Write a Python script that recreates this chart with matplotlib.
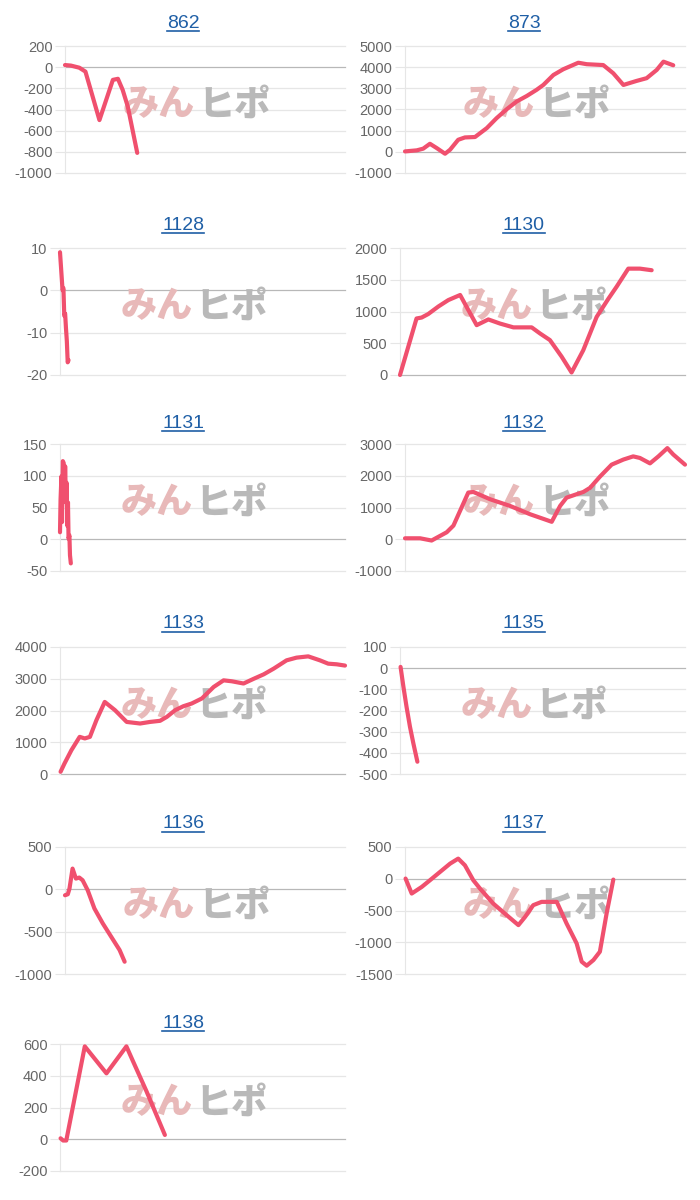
import matplotlib
matplotlib.use("Agg")
import matplotlib.pyplot as plt
from matplotlib.lines import Line2D

plt.rcParams['font.family'] = ['Liberation Sans', 'DejaVu Sans']
plt.rcParams['axes.unicode_minus'] = False

# --- data (x = position along the common period, 0-100) ---
x_862 = [0, 2.1, 5.1, 7.3, 12.3, 17.1, 18.9, 20.6, 22.4, 25.8]
y_862 = [20, 15, -5, -42, -500, -120, -110, -215, -370, -810]

x_873 = [0, 4.2, 6.5, 8.9, 11.3, 14.3, 16.1, 19.0, 21.4, 25.0, 29.2, 32.7, 36.3,
         39.9, 43.5, 47.0, 49.4, 53.0, 56.5, 61.9, 64.9, 70.8, 74.4, 78.0, 82.7,
         86.3, 89.9, 92.3, 95.8]
y_873 = [20, 70, 150, 380, 180, -90, 100, 570, 680, 700, 1120, 1590, 2010, 2380,
         2640, 2930, 3160, 3630, 3900, 4210, 4140, 4100, 3710, 3160, 3350, 3480,
         3870, 4260, 4090]

x_1128 = [0, 0.3, 0.6, 0.9, 1.2, 1.5, 1.8, 2.1, 2.4, 2.7, 3.0]
y_1128 = [9, 6, 3, 0, 0.5, -6, -5.5, -9, -12, -17, -16.5]

x_1130 = [0, 5.8, 7.6, 9.9, 13.5, 16.96, 21.1, 23.4, 26.9, 31.0, 35.1, 39.8,
          46.2, 49.1, 52.6, 56.7, 60.2, 64.3, 69.0, 73.1, 76.0, 80.1, 84.2, 88.3]
y_1130 = [0, 890, 905, 960, 1080, 1180, 1260, 1070, 785, 875, 810, 750, 750,
          655, 550, 290, 40, 390, 915, 1200, 1390, 1675, 1675, 1650]

x_1131 = [0, 0.2, 0.5, 0.7, 1.0, 1.3, 1.6, 1.8, 2.1, 2.3, 2.6, 2.8, 3.0, 3.3,
          3.5, 3.8]
y_1131 = [11, 63, 99, 27, 123, 120, 68, 115, 58, 89, 21, 58, 1, 6, -25, -38]

x_1132 = [0, 5.4, 9.5, 14.9, 17.3, 22.6, 24.4, 30.4, 37.5, 44.6, 52.4, 55.4,
          57.7, 63.7, 66.1, 69.6, 73.8, 78.0, 81.5, 83.9, 87.5, 90.5, 93.7, 95.8,
          100]
y_1132 = [30, 30, -40, 220, 430, 1470, 1490, 1260, 1050, 790, 550, 1050, 1310,
          1490, 1620, 1970, 2350, 2510, 2610, 2560, 2390, 2610, 2870, 2670, 2350]

x_1133 = [0.2, 1.6, 4.0, 6.9, 8.7, 10.5, 12.8, 15.7, 19.3, 23.4, 28.1, 31.6,
          35.1, 37.5, 40.4, 43.3, 46.2, 49.8, 53.9, 57.4, 60.3, 64.4, 68.0, 71.5,
          75.0, 79.5, 83.0, 87.1, 91.2, 94.1, 97.1, 100]
y_1133 = [70, 335, 750, 1170, 1120, 1170, 1700, 2270, 2010, 1640, 1590, 1640,
          1675, 1800, 2010, 2135, 2220, 2380, 2740, 2950, 2920, 2850, 3000, 3140,
          3320, 3580, 3665, 3705, 3580, 3475, 3455, 3415]

x_1135 = [0.2, 1.2, 2.3, 3.5, 4.7, 6.1]
y_1135 = [6, -88, -183, -277, -356, -442]

x_1136 = [0, 1.0, 1.6, 2.7, 3.9, 5.1, 6.3, 8.1, 10.5, 13.5, 16.5, 19.5, 21.3]
y_1136 = [-70, -58, 9, 245, 127, 139, 107, -10, -226, -403, -560, -717, -855]

x_1137 = [0.2, 2.4, 6.0, 8.9, 12.5, 16.1, 19.0, 21.4, 24.4, 26.8, 31.5, 36.3,
          40.5, 42.9, 45.8, 48.8, 54.2, 57.7, 61.3, 63.1, 64.9, 67.3, 69.6, 72.0,
          74.4]
y_1137 = [3, -233, -128, -24, 107, 238, 317, 212, -24, -155, -390, -573, -730,
          -600, -416, -364, -364, -704, -1018, -1306, -1369, -1280, -1149, -547,
          -13]

x_1138 = [0.2, 1.1, 2.2, 8.7, 16.3, 23.3, 25.6, 30.3, 36.8]
y_1138 = [6, -8, -8, 585, 415, 585, 492, 304, 27]

codes = ['862', '873', '1128', '1130', '1131', '1132', '1133', '1135', '1136',
         '1137', '1138']
xs = [x_862, x_873, x_1128, x_1130, x_1131, x_1132, x_1133, x_1135, x_1136,
      x_1137, x_1138]
ys = [y_862, y_873, y_1128, y_1130, y_1131, y_1132, y_1133, y_1135, y_1136,
      y_1137, y_1138]
yticks = [
    list(range(-1000, 201, 200)),
    list(range(-1000, 5001, 1000)),
    [-20, -10, 0, 10],
    list(range(0, 2001, 500)),
    list(range(-50, 151, 50)),
    list(range(-1000, 3001, 1000)),
    list(range(0, 4001, 1000)),
    list(range(-500, 101, 100)),
    list(range(-1000, 501, 500)),
    list(range(-1500, 501, 500)),
    list(range(-200, 601, 200)),
]

W, H = 700, 1200
fig = plt.figure(figsize=(7, 12), dpi=100)

row_top = [46, 248, 444, 647, 847, 1044]
title_y = [23, 225, 423, 624, 824, 1023]
ph = 127
line_col = '#f0506e'
grid_col = '#e6e6e6'
zero_col = '#b8b8b8'

titles = []
for i, code in enumerate(codes):
    row, col = divmod(i, 2)
    ticks = yticks[i]
    wide = max(len(str(t)) for t in ticks) >= 5
    if col == 0:
        left = 65 if wide else 60
        right = 345
        tx = 183
    else:
        left = 405 if wide else 400
        right = 685
        tx = 524
    top = row_top[row]
    ax = fig.add_axes([left / W, 1 - (top + ph) / H, (right - left) / W, ph / H])
    ax.set_xlim(0, 100)
    ax.set_ylim(ticks[0], ticks[-1])
    ax.set_yticks(ticks)
    ax.set_xticks([])
    for s in ['top', 'right', 'bottom']:
        ax.spines[s].set_visible(False)
    ax.spines['left'].set_color(grid_col)
    ax.tick_params(axis='y', length=7, color=grid_col, labelcolor='#666666',
                   labelsize=10.5, pad=2)
    for t in ticks:
        ax.axhline(t, color=zero_col if t == 0 else grid_col, lw=0.9,
                   zorder=0, clip_on=False)

    # watermark
    ax.text(0.465, 0.54, 'みん', transform=ax.transAxes, ha='right', va='center',
            fontsize=26, fontweight='heavy', color='#e8b9b9',
            family=['Noto Sans CJK JP'], zorder=1)
    ax.text(0.475, 0.54, 'ヒポ', transform=ax.transAxes, ha='left', va='center',
            fontsize=26, fontweight='heavy', color='#b9b9b9',
            family=['Noto Sans CJK JP'], zorder=1)

    ax.plot(xs[i], ys[i], color=line_col, lw=3, solid_joinstyle='round',
            solid_capstyle='round', zorder=3, clip_on=False)

    t = fig.text(tx / W, 1 - title_y[row] / H, code, ha='center', va='center',
                 fontsize=14, color='#1f5fa6')
    titles.append(t)

# underline the titles like links
fig.canvas.draw()
r = fig.canvas.get_renderer()
for t in titles:
    bb = t.get_window_extent(renderer=r)
    yline = bb.y0 + 1
    fig.add_artist(Line2D([bb.x0 / W, bb.x1 / W], [yline / H, yline / H],
                          transform=fig.transFigure, color='#1f5fa6', lw=1.2))

fig.savefig('out.png', dpi=100, facecolor='white')
